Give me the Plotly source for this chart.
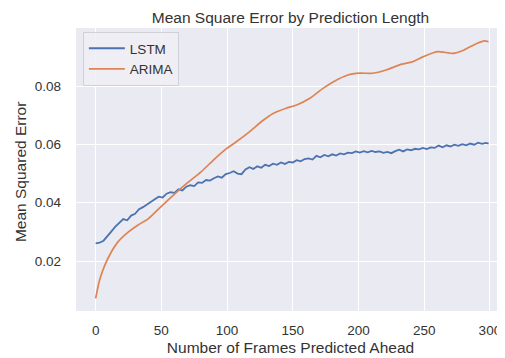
import plotly.graph_objects as go

# ---- data ----
lstm_x = list(range(0, 300, 3)) + [299]
lstm_y = [
    0.0261, 0.0263, 0.0270, 0.0288, 0.0302, 0.0318, 0.0330, 0.0344, 0.0340, 0.0356,
    0.0362, 0.0378, 0.0385, 0.0393, 0.0404, 0.0412, 0.0421, 0.0418, 0.0431, 0.0436,
    0.0434, 0.0446, 0.0442, 0.0455, 0.0460, 0.0457, 0.0470, 0.0468, 0.0478, 0.0476,
    0.0484, 0.0490, 0.0486, 0.0498, 0.0502, 0.0508, 0.0500, 0.0498, 0.0514, 0.0522,
    0.0516, 0.0525, 0.0520, 0.0530, 0.0526, 0.0534, 0.0530, 0.0538, 0.0533, 0.0540,
    0.0538, 0.0546, 0.0542, 0.0550, 0.0552, 0.0548, 0.0561, 0.0556, 0.0564, 0.0559,
    0.0566, 0.0562, 0.0569, 0.0566, 0.0572, 0.0570, 0.0576, 0.0572, 0.0577, 0.0573,
    0.0578, 0.0574, 0.0576, 0.0571, 0.0574, 0.0570, 0.0577, 0.0582, 0.0576, 0.0583,
    0.0580, 0.0585, 0.0583, 0.0588, 0.0584, 0.0590, 0.0588, 0.0596, 0.0590, 0.0597,
    0.0593, 0.0599, 0.0595, 0.0601, 0.0597, 0.0603, 0.0599, 0.0606, 0.0602, 0.0605,
    0.0603,
]

arima_x = [0, 3, 7, 12, 17, 25, 32, 40, 50, 60, 70, 80, 90, 100, 107, 117, 127, 135,
           145, 153, 163, 173, 181, 192, 201, 211, 221, 233, 241, 249, 260, 272, 280,
           290, 296, 299]
arima_y = [0.0072, 0.0135, 0.0186, 0.0232, 0.0266, 0.0300, 0.0323, 0.0345, 0.0388,
           0.0430, 0.0469, 0.0505, 0.0548, 0.0587, 0.0609, 0.0643, 0.0681, 0.0706,
           0.0724, 0.0735, 0.0758, 0.0792, 0.0815, 0.0838, 0.0844, 0.0844, 0.0855,
           0.0875, 0.0883, 0.0900, 0.0918, 0.0912, 0.0923, 0.0946, 0.0955, 0.0952]

x_ticks = [0, 50, 100, 150, 200, 250, 300]
y_ticks = [0.02, 0.04, 0.06, 0.08]
y_tick_labels = ["0.02", "0.04", "0.06", "0.08"]

FONT = "Liberation Sans, Arial, sans-serif"
TXT = "#333333"

fig = go.Figure()
fig.add_trace(go.Scatter(x=lstm_x, y=lstm_y, mode="lines", name="LSTM",
                         line=dict(color="#4C72B0", width=1.8)))
fig.add_trace(go.Scatter(x=arima_x, y=arima_y, mode="lines", name="ARIMA",
                         line=dict(color="#DD8452", width=1.7, shape="spline", smoothing=0.6)))

# the page body has an 8px default margin, so the figure is sized to fill the rest
fig.update_layout(
    width=497, height=350,
    margin=dict(l=68, r=0, t=20, b=47),
    paper_bgcolor="white",
    plot_bgcolor="#EAEAF2",
    font=dict(family=FONT, size=13.5, color=TXT),
    title=dict(text="Mean Square Error by Prediction Length", x=0.5, xref="paper",
               xanchor="center", y=0.974, yanchor="middle", yref="container",
               font=dict(size=15.5, color=TXT)),
    showlegend=True,
    legend=dict(x=0.016, y=0.986, xanchor="left", yanchor="top",
                bgcolor="rgba(238,238,245,0.85)", bordercolor="#d0d0d8", borderwidth=1,
                font=dict(size=13.5, color=TXT), itemwidth=36, tracegroupgap=0),
    xaxis=dict(range=[-14.95, 311.5], tickvals=x_ticks, showgrid=True, gridcolor="white",
               gridwidth=1.3, zeroline=False, showline=False, ticks="",
               ticklabelstandoff=9, tickfont=dict(size=13.5, color=TXT),
               title=dict(text="Number of Frames Predicted Ahead", standoff=5,
                          font=dict(size=15.5, color=TXT))),
    yaxis=dict(range=[0.0029, 0.0999], tickvals=y_ticks, ticktext=y_tick_labels,
               showgrid=True, gridcolor="white", gridwidth=1.3, zeroline=False,
               showline=False, ticks="", ticklabelstandoff=14,
               tickfont=dict(size=13.5, color=TXT)),
    annotations=[dict(text="Mean Squared Error", textangle=-90, xref="paper", yref="paper",
                      x=-0.1305, y=0.491, xanchor="center", yanchor="middle",
                      showarrow=False, font=dict(size=15.5, color=TXT))],
)

fig.write_html("out.html")
